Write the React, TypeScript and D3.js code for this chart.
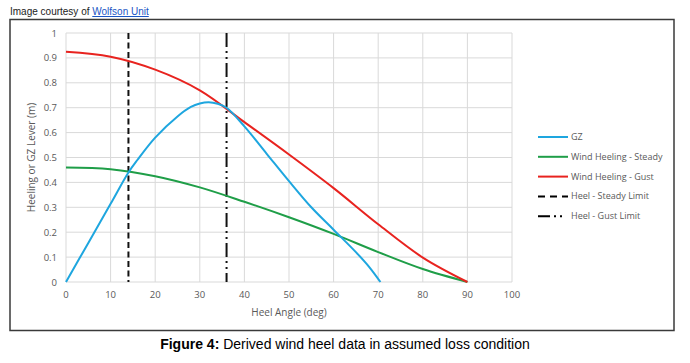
import * as React from "react";
import * as d3 from "d3";

// values
const gzAngles = [0, 5, 10, 14, 16, 20, 25, 28, 30, 32, 34, 36, 40, 45, 50, 55, 60, 65, 68, 70.5];
const gzValues = [0, 0.157, 0.314, 0.44, 0.49, 0.58, 0.665, 0.703, 0.717, 0.722, 0.716, 0.7, 0.625, 0.515, 0.405, 0.3, 0.21, 0.12, 0.06, 0];

const windAngles = [0, 10, 20, 30, 40, 50, 60, 70, 80, 90];
const steadyValues = [0.46, 0.453, 0.425, 0.38, 0.322, 0.26, 0.193, 0.12, 0.052, 0];
const gustValues = [0.925, 0.905, 0.853, 0.77, 0.642, 0.512, 0.377, 0.232, 0.098, 0];

const steadyLimit = 14;
const gustLimit = 36;

const xTicks = [0, 10, 20, 30, 40, 50, 60, 70, 80, 90, 100];
const yTicks = [0, 0.1, 0.2, 0.3, 0.4, 0.5, 0.6, 0.7, 0.8, 0.9, 1];

const legendLabels = ["GZ", "Wind Heeling - Steady", "Wind Heeling - Gust", "Heel - Steady Limit", "Heel - Gust Limit"];

const blue = "#1ea6df";
const green = "#1f9e48";
const red = "#e8231f";
const tickColor = "#595959";
const font = "'Open Sans', 'Noto Sans', sans-serif";

export default function App() {
  const x = d3.scaleLinear().domain([0, 100]).range([66, 512]);
  const y = d3.scaleLinear().domain([0, 1]).range([282, 33]);

  const line = d3
    .line<[number, number]>()
    .x((d) => x(d[0]))
    .y((d) => y(d[1]))
    .curve(d3.curveCatmullRom.alpha(0.5));

  const gzPath = line(gzAngles.map((a, i) => [a, gzValues[i]]))!;
  const steadyPath = line(windAngles.map((a, i) => [a, steadyValues[i]]))!;
  const gustPath = line(windAngles.map((a, i) => [a, gustValues[i]]))!;

  const gustDash = "14 4 2 4 2 4";
  const steadyDash = "6 3.5";

  const legendStyles = [
    { stroke: blue, dash: undefined },
    { stroke: green, dash: undefined },
    { stroke: red, dash: undefined },
    { stroke: "#000", dash: "7 5" },
    { stroke: "#000", dash: "12 4 2 4 2 6" },
  ];

  return (
    <svg width={690} height={363} style={{ position: "absolute", left: 0, top: 0, background: "#fff" }}>
      <text x={10} y={15} fontFamily="Arial, 'Liberation Sans', sans-serif" fontSize={10} fill="#222">
        Image courtesy of{" "}
        <tspan fill="#1a55c4" textDecoration="underline">
          Wolfson Unit
        </tspan>
      </text>

      <rect x={10} y={19.5} width={664} height={311} fill="#fff" stroke="#3a3a3a" strokeWidth={1.5} />

      {/* grid */}
      <g stroke="#d9d9d9" strokeWidth={1}>
        {xTicks.map((t) => (
          <line key={"gx" + t} x1={x(t)} x2={x(t)} y1={y(1)} y2={y(0)} />
        ))}
        {yTicks.map((t) => (
          <line key={"gy" + t} x1={x(0)} x2={x(100)} y1={y(t)} y2={y(t)} />
        ))}
      </g>

      {/* tick labels */}
      <g fontFamily={font} fontSize={9.5} fill={tickColor}>
        {xTicks.map((t) => (
          <text key={"tx" + t} x={x(t)} y={y(0) + 16} textAnchor="middle">
            {t}
          </text>
        ))}
        {yTicks.map((t) => (
          <text key={"ty" + t} x={x(0) - 9} y={y(t) + 3.5} textAnchor="end">
            {t}
          </text>
        ))}
      </g>

      <text x={(x(0) + x(100)) / 2} y={316} textAnchor="middle" fontFamily={font} fontSize={10} fill={tickColor}>
        Heel Angle (deg)
      </text>
      <text
        transform={`translate(35,${(y(0) + y(1)) / 2}) rotate(-90)`}
        textAnchor="middle"
        fontFamily={font}
        fontSize={10}
        fill={tickColor}
      >
        Heeling or GZ Lever (m)
      </text>

      {/* limit lines */}
      <line x1={x(steadyLimit)} x2={x(steadyLimit)} y1={y(1)} y2={y(0)} stroke="#111" strokeWidth={2} strokeDasharray={steadyDash} />
      <line x1={x(gustLimit)} x2={x(gustLimit)} y1={y(1)} y2={y(0)} stroke="#111" strokeWidth={2} strokeDasharray={gustDash} />

      {/* series */}
      <path d={steadyPath} fill="none" stroke={green} strokeWidth={2} />
      <path d={gustPath} fill="none" stroke={red} strokeWidth={2} />
      <path d={gzPath} fill="none" stroke={blue} strokeWidth={2} />

      {/* legend */}
      <g fontFamily={font} fontSize={9} fill={tickColor}>
        {legendLabels.map((lbl, i) => {
          const ly = 137 + i * 19.8;
          const s = legendStyles[i];
          return (
            <g key={lbl}>
              <line x1={538} x2={568} y1={ly} y2={ly} stroke={s.stroke} strokeWidth={2} strokeDasharray={s.dash} />
              <text x={571} y={ly + 3}>
                {lbl}
              </text>
            </g>
          );
        })}
      </g>

      <text x={345} y={349} textAnchor="middle" fontFamily="Arial, 'Liberation Sans', sans-serif" fontSize={14} fill="#000">
        <tspan fontWeight="bold">Figure 4:</tspan> Derived wind heel data in assumed loss condition
      </text>
    </svg>
  );
}
